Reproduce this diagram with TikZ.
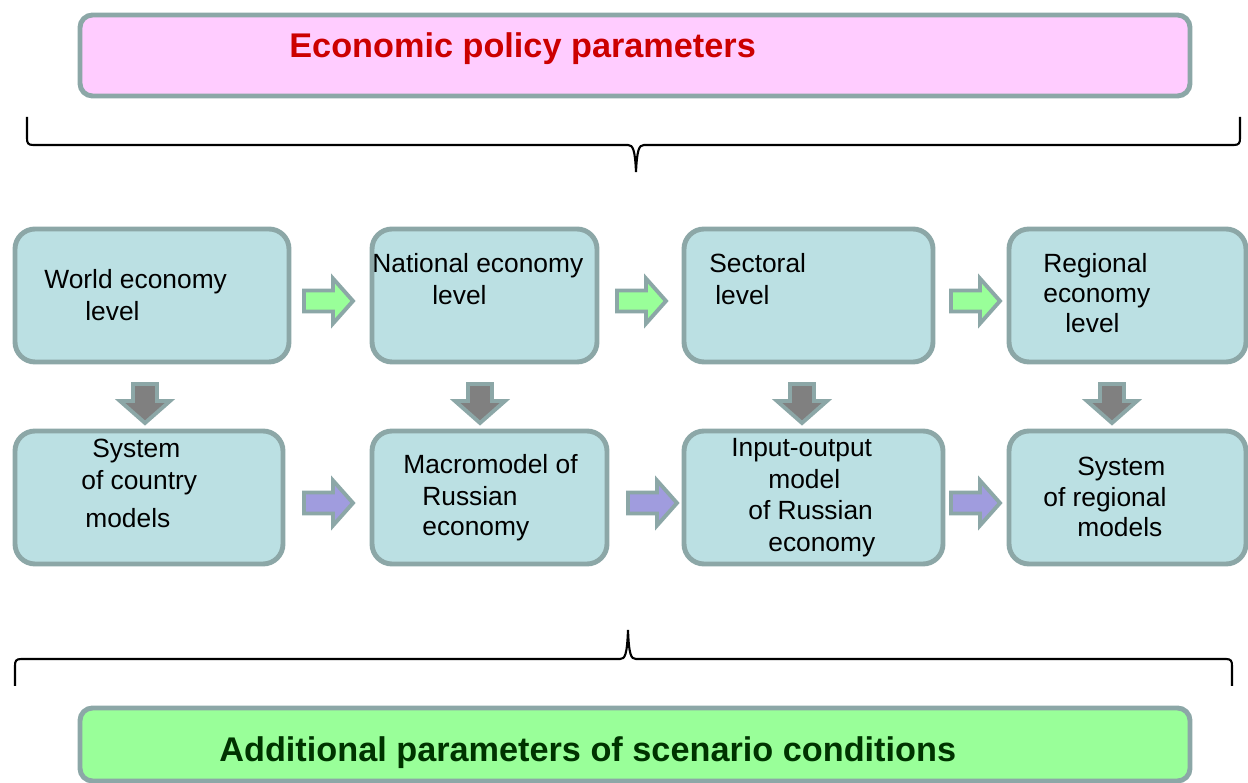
\documentclass[tikz,border=0pt]{standalone}
\usepackage{fontspec}
\setmainfont{Liberation Sans}
\usetikzlibrary{fit}
\definecolor{boxc}{RGB}{187,224,227}
\definecolor{bordc}{RGB}{140,167,167}
\definecolor{pinkc}{RGB}{255,204,255}
\definecolor{titlered}{RGB}{204,0,0}
\definecolor{lgreen}{RGB}{153,255,153}
\definecolor{dgreen}{RGB}{0,51,0}
\definecolor{lpurple}{RGB}{160,156,222}
\definecolor{agray}{RGB}{128,128,128}
\newcommand\blkR[3]{\draw[blk, fill=#3] (#1,#2) ++(0,-10.5) -- ++(29,0) -- ++(0,-12) -- ++(20,22.5) -- ++(-20,22.5) -- ++(0,-12) -- ++(-29,0) -- cycle;}
\newcommand\blkD[2]{\draw[blk, fill=agray] (#1,#2) ++(-12,0) -- ++(24,0) -- ++(0,17) -- ++(13,0) -- ++(-25,22) -- ++(-25,-22) -- ++(13,0) -- cycle;}
\begin{document}
\begin{tikzpicture}[x=0.02cm,y=-0.02cm,
  box/.style={draw=bordc, line width=2.8pt, fill=boxc, rounded corners=0.4cm, inner sep=0pt},
  banner/.style={draw=bordc, line width=2.8pt, rounded corners=0.25cm, inner sep=0pt},
  txt/.style={inner sep=0pt, anchor=base west, font=\fontsize{15}{18}\selectfont},
  ttl/.style={inner sep=0pt, anchor=base west, font=\fontsize{19.5}{23}\selectfont\bfseries},
  blk/.style={draw=bordc, line width=2.2pt, line join=miter},
  brace/.style={draw=black, line width=1.2pt}]
\useasboundingbox (0,0) rectangle (1248,783);

% banners
\node[banner, fill=pinkc, fit={(80,15) (1190,96)}] (top) {};
\node[ttl, text=titlered] (toptxt) at (289,58) {Economic policy parameters};
\node[banner, fill=lgreen, fit={(80,708) (1190,781)}] (bot) {};
\node[ttl, text=dgreen] (bottxt) at (219,761) {Additional parameters of scenario conditions};

% braces
\draw[brace] (27,117) -- (27,138) .. controls (27,143) and (28,145) .. (33,145) -- (628,145) .. controls (633,145) and (635,150) .. (636,172) .. controls (637,150) and (639,145) .. (644,145) -- (1234,145) .. controls (1239,145) and (1240,143) .. (1240,138) -- (1240,117);
\draw[brace] (15,686) -- (15,666) .. controls (15,661) and (16,659) .. (21,659) -- (620,659) .. controls (625,659) and (627,655) .. (628,630) .. controls (629,655) and (631,659) .. (636,659) -- (1226,659) .. controls (1231,659) and (1232,661) .. (1232,666) -- (1232,686);

% row 1 boxes
\node[box, fit={(15,229) (289,362)}] (w) {};
\node[box, fit={(372,229) (597,362)}] (n) {};
\node[box, fit={(684,229) (933,362)}] (s) {};
\node[box, fit={(1009,229) (1246,362)}] (r) {};
% row 2 boxes
\node[box, fit={(15,431) (283,564)}] (wm) {};
\node[box, fit={(372,431) (607,564)}] (nm) {};
\node[box, fit={(684,431) (943,564)}] (sm) {};
\node[box, fit={(1009,431) (1246,564)}] (rm) {};

% texts row 1
\node[txt] (t1a) at (44,289) {World economy};
\node[txt] (t1b) at (85,321) {level};
\node[txt] (t2a) at (372,273) {National economy};
\node[txt] (t2b) at (432,305) {level};
\node[txt] (t3a) at (709,273) {Sectoral};
\node[txt] (t3b) at (715,305) {level};
\node[txt] (t4a) at (1043,273) {Regional};
\node[txt] (t4b) at (1043,303) {economy};
\node[txt] (t4c) at (1065,333) {level};
% texts row 2
\node[txt] (u1a) at (92,458) {System};
\node[txt] (u1b) at (81,490) {of country};
\node[txt] (u1c) at (85,528) {models};
\node[txt] (u2a) at (403,474) {Macromodel of};
\node[txt] (u2b) at (422,506) {Russian};
\node[txt] (u2c) at (422,536) {economy};
\node[txt] (u3a) at (731,457) {Input-output};
\node[txt] (u3b) at (768,489) {model};
\node[txt] (u3c) at (748,520) {of Russian};
\node[txt] (u3d) at (768,552) {economy};
\node[txt] (u4a) at (1077,476) {System};
\node[txt] (u4b) at (1043,507) {of regional};
\node[txt] (u4c) at (1077,537) {models};

% block arrows
\blkR{304}{301}{lgreen}
\blkR{617}{301}{lgreen}
\blkR{951}{301}{lgreen}
\blkR{304}{503}{lpurple}
\blkR{628}{503}{lpurple}
\blkR{951}{503}{lpurple}
\blkD{145}{384}
\blkD{480}{384}
\blkD{802}{384}
\blkD{1112}{384}
\end{tikzpicture}
\end{document}
